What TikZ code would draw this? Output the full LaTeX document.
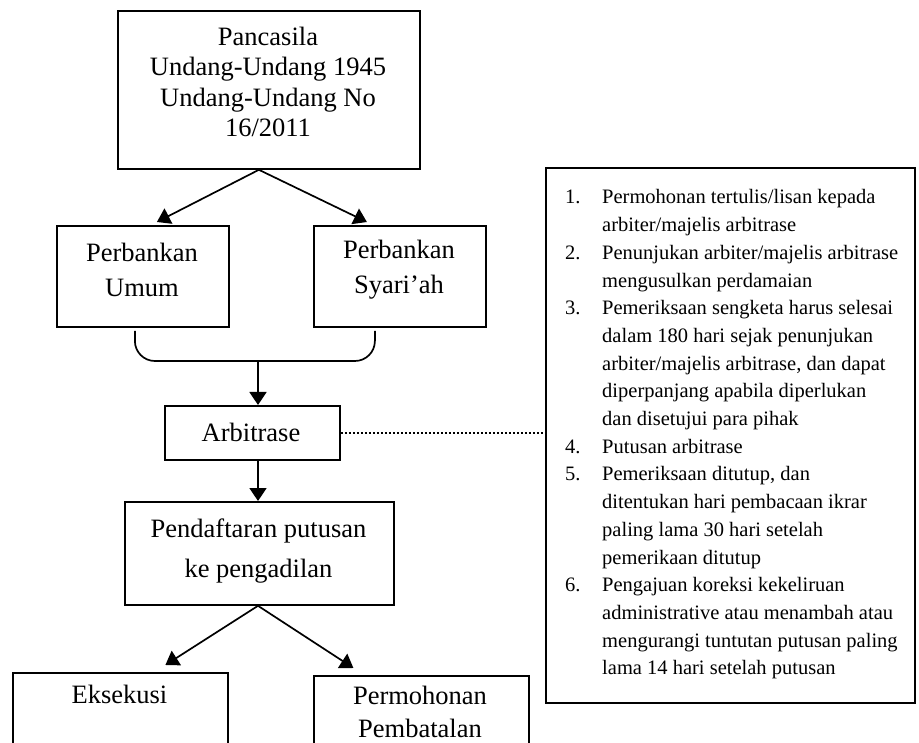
\documentclass[tikz,border=0pt]{standalone}
\usepackage{fontspec}
\setmainfont{Liberation Serif}
\usetikzlibrary{arrows.meta}
\begin{document}
\begin{tikzpicture}[x=1pt,y=-1pt,
  box/.style={draw, line width=1.8pt, inner sep=0pt, anchor=north west},
  txt/.style={inner sep=0pt, align=center},
  arr/.style={line width=1.7pt, -{Triangle[width=17pt,length=13pt]}},
  dotline/.style={line width=2.4pt, dash pattern=on 2.2pt off 1.8pt},
  bigfont/.style={font=\fontsize{26.5}{#1}\selectfont}]
\clip (0,0) rectangle (919,743);
\fill[white] (0,0) rectangle (919,743);
% boxes
\node[box, minimum width=302pt, minimum height=158pt] (topbox) at (117,10) {};
\node[box, minimum width=172pt, minimum height=101pt] (umum) at (56,225) {};
\node[box, minimum width=172pt, minimum height=101pt] (syariah) at (313,225) {};
\node[box, minimum width=175pt, minimum height=54pt] (arb) at (164,405) {};
\node[box, minimum width=269pt, minimum height=103pt] (daftar) at (124,501) {};
\node[box, minimum width=215pt, minimum height=100pt] (eks) at (12,672) {};
\node[box, minimum width=215pt, minimum height=100pt] (batal) at (313,675) {};
\node[box, minimum width=369pt, minimum height=535pt] (rbox) at (545,167) {};
% texts
\node[txt, bigfont=30.5] (toptext) at (268,82) {Pancasila\\Undang-Undang 1945\\Undang-Undang No\\16/2011};
\node[txt, bigfont=35] (umumtext) at (142,270) {Perbankan\\Umum};
\node[txt, bigfont=35] (syariahtext) at (399,270) {Perbankan\\Syari’ah};
\node[txt, bigfont=30] (arbtext) at (251,432) {Arbitrase};
\node[txt, bigfont=40] (daftartext) at (258.5,551) {Pendaftaran putusan\\ke pengadilan};
\node[txt, bigfont=30] (ekstext) at (119.5,694) {Eksekusi};
\node[txt, bigfont=33] (bataltext) at (420,711.5) {Permohonan\\Pembatalan};
\node[inner sep=0pt, align=left, anchor=north west, font=\fontsize{20.5}{27.7}\selectfont] (steps) at (565,189.5) {%
\makebox[37pt][l]{1.}Permohonan tertulis/lisan kepada\\
\hspace*{37pt}arbiter/majelis arbitrase\\
\makebox[37pt][l]{2.}Penunjukan arbiter/majelis arbitrase\\
\hspace*{37pt}mengusulkan perdamaian\\
\makebox[37pt][l]{3.}Pemeriksaan sengketa harus selesai\\
\hspace*{37pt}dalam 180 hari sejak penunjukan\\
\hspace*{37pt}arbiter/majelis arbitrase, dan dapat\\
\hspace*{37pt}diperpanjang apabila diperlukan\\
\hspace*{37pt}dan disetujui para pihak\\
\makebox[37pt][l]{4.}Putusan arbitrase\\
\makebox[37pt][l]{5.}Pemeriksaan ditutup, dan\\
\hspace*{37pt}ditentukan hari pembacaan ikrar\\
\hspace*{37pt}paling lama 30 hari setelah\\
\hspace*{37pt}pemerikaan ditutup\\
\makebox[37pt][l]{6.}Pengajuan koreksi kekeliruan\\
\hspace*{37pt}administrative atau menambah atau\\
\hspace*{37pt}mengurangi tuntutan putusan paling\\
\hspace*{37pt}lama 14 hari setelah putusan};
% connectors
\draw[arr] ([xshift=-10pt]topbox.south) -- ([xshift=14pt,yshift=3pt]umum.north);
\draw[arr] ([xshift=-10pt]topbox.south) -- ([xshift=-33pt,yshift=3pt]syariah.north);
\coordinate (brk) at (258,361);
\draw[line width=1.7pt, rounded corners=20pt] ([xshift=-8pt,yshift=-3pt]umum.south) -- ([xshift=-8pt]umum.south |- brk) -- ([xshift=-25pt]syariah.south |- brk) -- ([xshift=-25pt,yshift=-3pt]syariah.south);
\draw[arr] (brk) -- (arb.north -| brk);
\draw[arr] (arb.south -| brk) -- (daftar.north -| brk);
\draw[dotline] (arb.east) -- (arb.east -| rbox.west);
\draw[arr] (daftar.south -| brk) -- ([xshift=45pt,yshift=7pt]eks.north);
\draw[arr] (daftar.south -| brk) -- ([xshift=-68pt,yshift=7pt]batal.north);
\end{tikzpicture}
\end{document}
